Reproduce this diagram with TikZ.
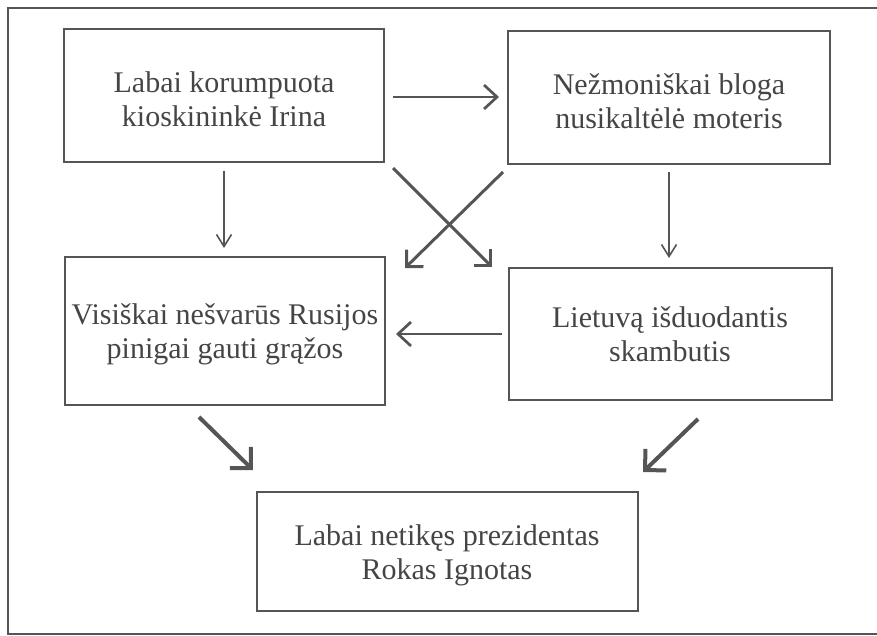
\documentclass[tikz,border=0pt]{standalone}
\usepackage{fontspec}
\setmainfont{Liberation Serif}
\usetikzlibrary{arrows.meta}
\definecolor{ink}{HTML}{555555}
\definecolor{txt}{HTML}{454545}
\begin{document}
\begin{tikzpicture}[x=1pt,y=-1pt,
  boxst/.style={draw=ink,line width=1.6pt,inner sep=0pt},
  lab/.style={text=txt,align=center,font=\fontsize{30}{34}\selectfont},
  thinarr/.style={draw=ink,line width=1.6pt,-{Straight Barb[length=12pt,width=15pt]}},
  medarr/.style={draw=ink,line width=2.7pt,-{Straight Barb[length=13pt,width=24pt]}},
  crossarr/.style={draw=ink,line width=3pt,-{Straight Barb[length=12pt,width=24pt]}},
  bigarr/.style={draw=ink,line width=4pt,-{Straight Barb[length=15pt,width=30pt]}}]
\useasboundingbox (0,0) rectangle (877,636);
% outer frame (open on the right)
\draw[ink,line width=1.6pt] (877,8) -- (8,8) -- (8,634) -- (877,634);
% boxes
\draw[boxst] (64,29) rectangle (384,162);
\draw[boxst] (508,31) rectangle (830,164);
\draw[boxst] (65,257) rectangle (385,405);
\draw[boxst] (509,268) rectangle (832,400);
\draw[boxst] (257,492) rectangle (638,611);
% nodes
\node[lab] (a) at (224,99) {Labai korumpuota\\kioskininkė Irina};
\node[lab] (b) at (669,101) {Nežmoniškai bloga\\nusikaltėlė moteris};
\node[lab] (c) at (225,334) {Visiškai nešvarūs Rusijos\\pinigai gauti grąžos};
\node[lab] (d) at (670,334) {Lietuvą išduodantis\\skambutis};
\node[lab] (e) at (447,555) {Labai netikęs prezidentas\\Rokas Ignotas};
% connector endpoints
\coordinate (ab1) at (393,97);  \coordinate (ab2) at (499,97);
\coordinate (ac1) at (224,171); \coordinate (ac2) at (224,248);
\coordinate (bd1) at (669,172); \coordinate (bd2) at (669,258);
\coordinate (ad1) at (393,168); \coordinate (ad2) at (492,267);
\coordinate (bc1) at (503,172); \coordinate (bc2) at (405,268);
\coordinate (dc1) at (502,334); \coordinate (dc2) at (396,334);
\coordinate (ce1) at (199,417); \coordinate (ce2) at (253,470);
\coordinate (de1) at (698,419); \coordinate (de2) at (643,472);
% connectors
\draw[medarr] (ab1) -- (ab2);
\draw[thinarr] (ac1) -- (ac2);
\draw[thinarr] (bd1) -- (bd2);
\draw[crossarr] (ad1) -- (ad2);
\draw[crossarr] (bc1) -- (bc2);
\draw[medarr] (dc1) -- (dc2);
\draw[bigarr] (ce1) -- (ce2);
\draw[bigarr] (de1) -- (de2);
\end{tikzpicture}
\end{document}
